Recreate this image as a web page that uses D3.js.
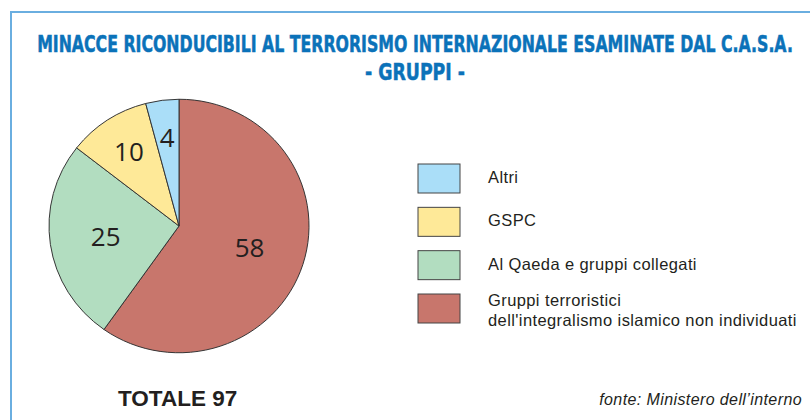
<!DOCTYPE html>
<html>
<head>
<meta charset="utf-8">
<script src="https://cdn.jsdelivr.net/npm/d3@7"></script>
<style>
  body { margin: 0; background: #fff; }
  svg { display: block; }
</style>
</head>
<body>
<script>
'use strict';

const titleLines = ['MINACCE RICONDUCIBILI AL TERRORISMO INTERNAZIONALE ESAMINATE DAL C.A.S.A.', '- GRUPPI -'];
const categories = ['Altri', 'GSPC', 'Al Qaeda e gruppi collegati', 'Gruppi terroristici\ndell\'integralismo islamico non individuati'];
const values = [4, 10, 25, 58];
const colors = ['#aadef8', '#fee998', '#b2ddc0', '#c8766c'];
const totalLabel = 'TOTALE 97';
const sourceLabel = 'fonte: Ministero dell\u2019interno';

const width = 810;
const height = 420;

const center = {x: 179, y: 226};
const radius = 130;

const svg = d3.select('body').append('svg')
  .attr('width', width)
  .attr('height', height);

// frame (top and left edges only are visible)
svg.append('path')
  .attr('d', 'M11,' + height + 'V12H' + width)
  .attr('fill', 'none')
  .attr('stroke', '#6aaee0')
  .attr('stroke-width', 2);

// title, squeezed horizontally to the width of the original
const titleWidths = [756, 100];

const title = svg.append('g')
  .attr('font-family', '"Liberation Sans Narrow", "DejaVu Sans Condensed", sans-serif')
  .attr('font-weight', 'bold')
  .attr('font-size', 23)
  .attr('fill', '#0b72b9')
  .attr('stroke', '#0b72b9')
  .attr('stroke-width', 0.5)
  .attr('text-anchor', 'middle');

title.selectAll('text')
  .data(titleLines)
  .enter()
  .append('text')
  .text(d => d)
  .attr('transform', function(d, i) {
    const w = this.getComputedTextLength();
    return 'translate(415,' + (52 + i * 28) + ') scale(' + (titleWidths[i] / w) + ',1)';
  });

// pie, starts at 12 o'clock and goes clockwise with the biggest slice first
const pieData = values.map((v, i) => ({value: v, name: categories[i], color: colors[i]}));

const pie = d3.pie()
  .value(d => d.value)
  .sort(null);

const arcs = pie(pieData.slice().reverse());

const arc = d3.arc()
  .innerRadius(0)
  .outerRadius(radius);

const labelArc = d => d3.arc()
  .innerRadius(radius * (d.value < 15 ? 0.7 : 0.57))
  .outerRadius(radius * (d.value < 15 ? 0.7 : 0.57));

const pieG = svg.append('g')
  .attr('transform', 'translate(' + [center.x, center.y] + ') scale(1, 0.975)');

pieG.selectAll('path')
  .data(arcs)
  .enter()
  .append('path')
  .attr('d', arc)
  .attr('fill', d => d.data.color)
  .attr('stroke', '#333')
  .attr('stroke-width', 1);

pieG.selectAll('text')
  .data(arcs)
  .enter()
  .append('text')
  .attr('transform', d => 'translate(' + labelArc(d).centroid(d) + ')')
  .attr('text-anchor', 'middle')
  .attr('dy', '0.36em')
  .attr('font-family', '"Open Sans", sans-serif')
  .attr('font-size', 26)
  .attr('fill', '#231f20')
  .text(d => d.value);

// legend
const legendY = d3.scalePoint()
  .domain(categories)
  .range([164, 294]);

const legend = svg.append('g')
  .attr('font-family', '"Liberation Sans", Arial, sans-serif')
  .attr('font-size', 16.5)
  .attr('letter-spacing', 0.4)
  .attr('fill', '#231f20');

const items = legend.selectAll('g')
  .data(pieData)
  .enter()
  .append('g')
  .attr('transform', d => 'translate(418,' + legendY(d.name) + ')');

items.append('rect')
  .attr('width', 42)
  .attr('height', 29)
  .attr('fill', d => d.color)
  .attr('stroke', '#444')
  .attr('stroke-width', 1);

items.append('text')
  .selectAll('tspan')
  .data(d => {
    const lines = d.name.split('\n');
    return lines.map(t => ({text: t, multi: lines.length > 1}));
  })
  .enter()
  .append('tspan')
  .attr('x', 70)
  .attr('dy', (d, i) => i > 0 ? 20 : (d.multi ? 12 : 19))
  .text(d => d.text);

svg.append('text')
  .attr('x', 118)
  .attr('y', 406)
  .attr('font-family', '"Liberation Sans", Arial, sans-serif')
  .attr('font-weight', 'bold')
  .attr('font-size', 22.5)
  .attr('fill', '#231f20')
  .text(totalLabel);

svg.append('text')
  .attr('x', 802)
  .attr('y', 405)
  .attr('text-anchor', 'end')
  .attr('font-family', '"Liberation Sans", Arial, sans-serif')
  .attr('font-style', 'italic')
  .attr('font-size', 16)
  .attr('letter-spacing', 0.4)
  .attr('fill', '#231f20')
  .text(sourceLabel);
</script>
</body>
</html>
